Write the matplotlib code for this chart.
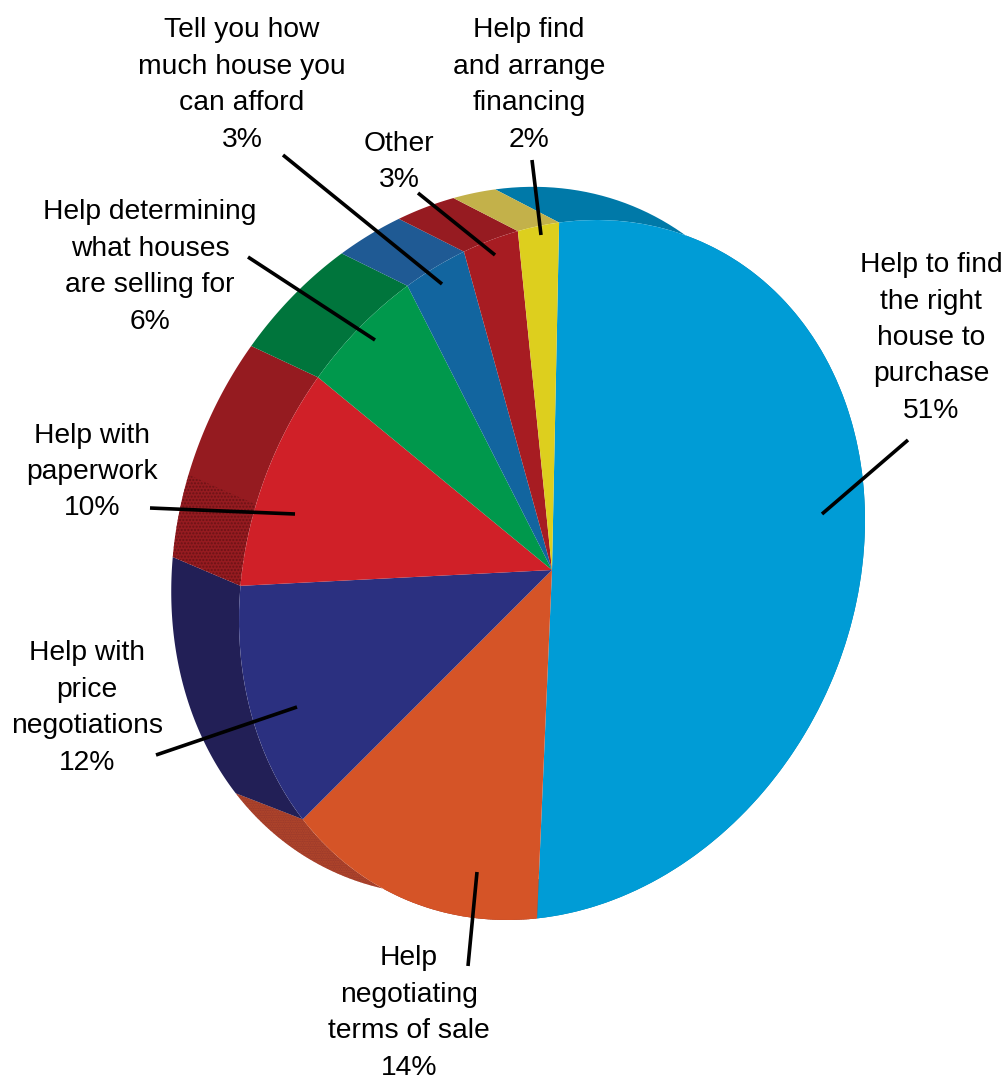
import numpy as np
import matplotlib
matplotlib.use('Agg')
import matplotlib.pyplot as plt
from matplotlib.transforms import Affine2D

# shares as measured on the drawing (printed labels are rounded and add to 101)
shares = [50.4, 13.9, 11.9, 10.0, 5.8, 3.1, 2.8, 2.1]
top_colors = ['#009CD6', '#D55427', '#2B3080', '#D02028', '#00984C', '#12659F', '#A71C22', '#DDCF1E']
side_colors = ['#0079A8', '#9E3B2A', '#221F56', '#951B20', '#00753C', '#1F5A94', '#961B21', '#C3B14A']

labels = [
    'Help to find\nthe right\nhouse to\npurchase\n51%',
    'Help\nnegotiating\nterms of sale\n14%',
    'Help with\nprice\nnegotiations\n12%',
    'Help with\npaperwork\n10%',
    'Help determining\nwhat houses\nare selling for\n6%',
    'Tell you how\nmuch house you\ncan afford\n3%',
    'Other\n3%',
    'Help find\nand arrange\nfinancing\n2%',
]
label_x = [931, 409, 87, 92, 150, 242, 399, 529]
label_y = [338, 1013, 708, 472, 267, 85, 162, 85]
leader_start = [(908, 440), (468, 966), (156, 755), (150, 508), (248, 257), (283, 155), (418, 193), (532, 160)]
leader_end = [(822, 514), (477, 872), (297, 707), (295, 514), (375, 340), (442, 284), (495, 255), (541, 235)]

W, H = 1005, 1080
CX, CY = 552, 570
# the top face is a slightly tilted ellipse: x = 313 cos t, y = 50 cos t + 346.4 sin t
MAT = np.array([[313, 0], [50, 346.4]])
# the back rim sits up and left of the top face and is a little larger
DEPTH_X, DEPTH_Y = 64, 29
BACK = 1.012

plt.rcParams['font.family'] = ['Liberation Sans', 'DejaVu Sans']
fig = plt.figure(figsize=(W / 100, H / 100), dpi=100)

# axes in pixels, measured from the pie centre with y going up
ax = fig.add_axes([0, 0, 1, 1])
wedges, _ = ax.pie(shares, colors=top_colors, startangle=88.7, counterclock=False,
                   wedgeprops={'linewidth': 0, 'zorder': 5})
ax.set_aspect('auto')
ax.set_xlim(-CX, W - CX)
ax.set_ylim(CY - H, CY)
tilt = Affine2D.from_values(MAT[0, 0], MAT[1, 0], MAT[0, 1], MAT[1, 1], 0, 0)
for w in wedges:
    w.set_transform(tilt + ax.transData)


def side_band(t1, t2):
    t = np.radians(np.linspace(t1, t2, 120))
    x, y = MAT @ np.array([np.cos(t), np.sin(t)])
    xs = np.concatenate([x, BACK * x[::-1] - DEPTH_X])
    ys = np.concatenate([y, BACK * y[::-1] + DEPTH_Y])
    return xs, ys


for w, c in zip(wedges, side_colors):
    xs, ys = side_band(w.theta1, w.theta2)
    ax.fill(xs, ys, color=c, lw=0, zorder=2)

# stippled patches on the red and orange sides
red = wedges[3]
xs, ys = side_band(161, red.theta2 % 360)
ax.fill(xs, ys, facecolor='none', edgecolor='#6B1216', hatch='.....', lw=0, zorder=3)
orange = wedges[1]
xs, ys = side_band(orange.theta1, orange.theta2)
ax.fill(xs, ys, facecolor='none', edgecolor='#B5482A', hatch='.......', lw=0, zorder=3)

# labels and leaders in pixel coordinates
over = fig.add_axes([0, 0, 1, 1], zorder=10)
over.set_xlim(0, W)
over.set_ylim(H, 0)
over.axis('off')
for txt, x, y in zip(labels, label_x, label_y):
    over.text(x, y, txt, ha='center', va='center', fontsize=20.3, linespacing=1.52, color='black')
for (x0, y0), (x1, y1) in zip(leader_start, leader_end):
    over.plot([x0, x1], [y0, y1], color='black', lw=2.6, solid_capstyle='butt')

fig.savefig('out.png', dpi=100)
